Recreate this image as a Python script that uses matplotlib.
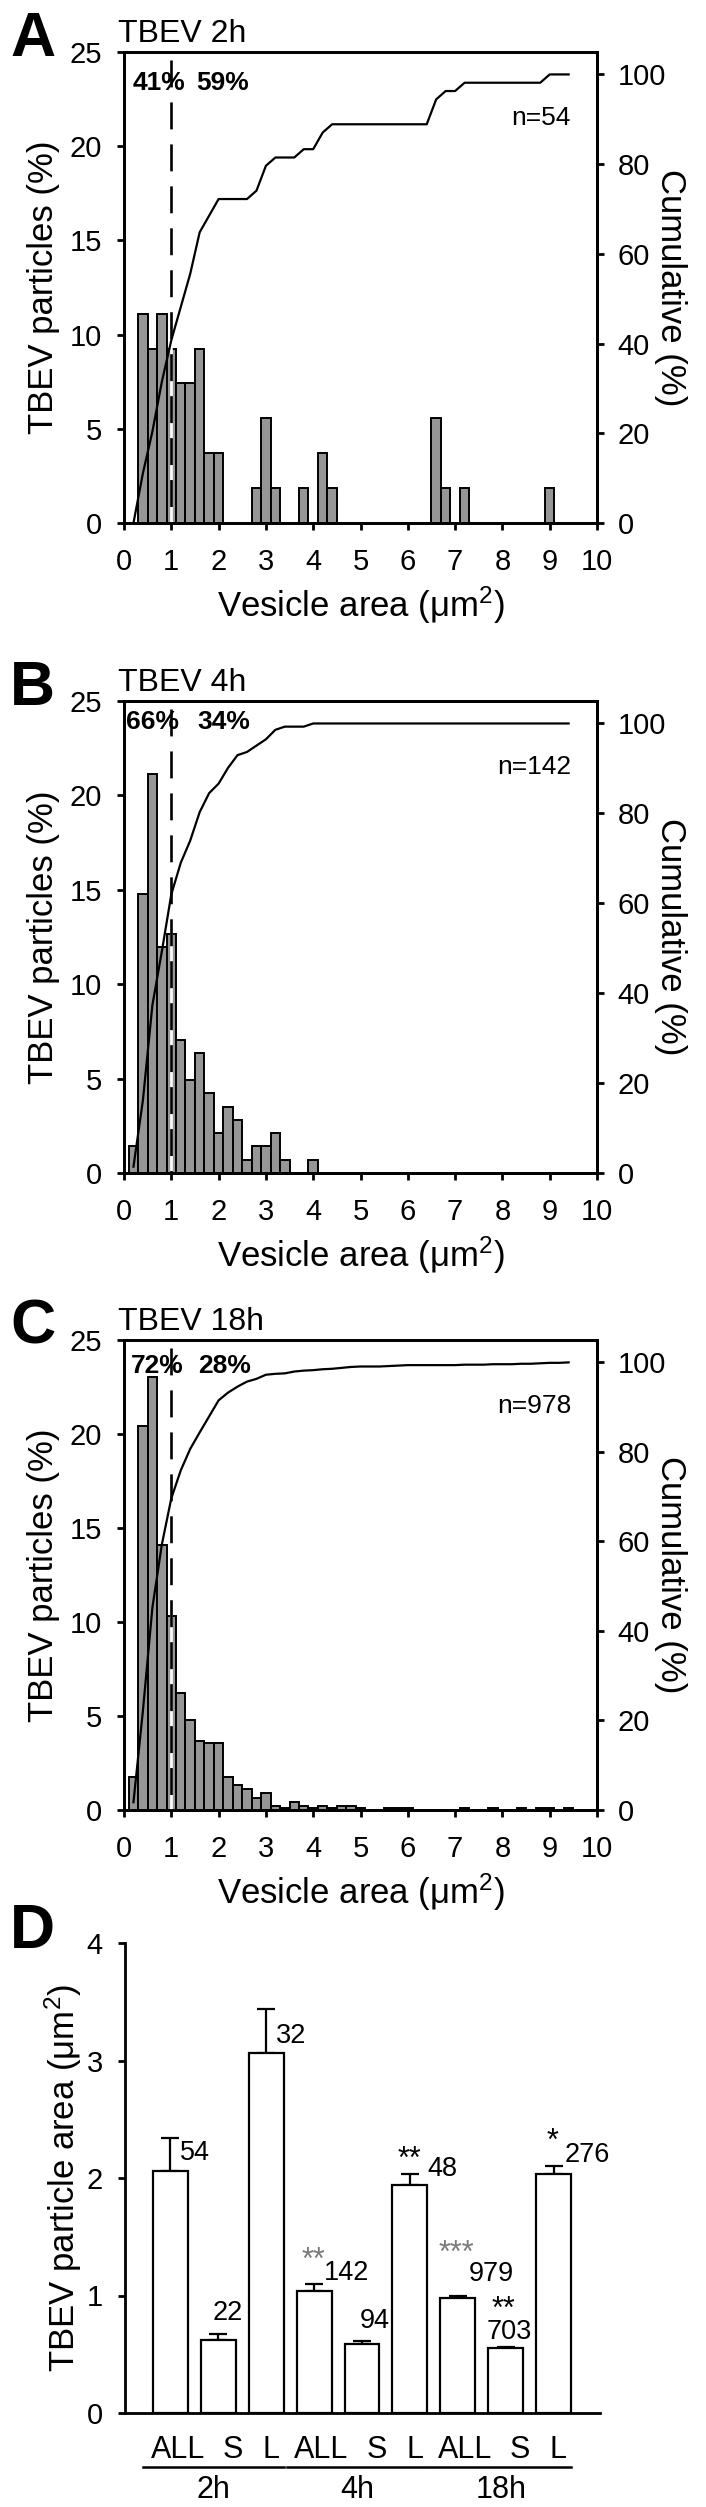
import numpy as np
import matplotlib
matplotlib.use('Agg')
import matplotlib.pyplot as plt
from matplotlib import transforms

plt.rcParams['font.family'] = ['Liberation Sans', 'DejaVu Sans']
plt.rcParams['mathtext.fontset'] = 'custom'
plt.rcParams['mathtext.rm'] = 'Liberation Sans'
plt.rcParams['mathtext.default'] = 'regular'

# vesicle area histograms: bin centre (um2) and number of particles in the bin
bins_2h = [0.4, 0.6, 0.8, 1.0, 1.2, 1.4, 1.6, 1.8, 2.0, 2.8, 3.0, 3.2, 3.8, 4.2, 4.4, 6.6, 6.8, 7.2, 9.0]
counts_2h = [6, 5, 6, 5, 4, 4, 5, 2, 2, 1, 3, 1, 1, 2, 1, 3, 1, 1, 1]

bins_4h = [0.2, 0.4, 0.6, 0.8, 1.0, 1.2, 1.4, 1.6, 1.8, 2.0, 2.2, 2.4, 2.6, 2.8, 3.0, 3.2, 3.4, 4.0]
counts_4h = [2, 21, 30, 17, 18, 10, 7, 9, 6, 3, 5, 4, 1, 2, 2, 3, 1, 1]

bins_18h = [0.2, 0.4, 0.6, 0.8, 1.0, 1.2, 1.4, 1.6, 1.8, 2.0, 2.2, 2.4, 2.6, 2.8, 3.0, 3.2, 3.4,
            3.6, 3.8, 4.0, 4.2, 4.4, 4.6, 4.8, 5.0, 5.6, 5.8, 6.0, 7.2, 7.8, 8.4, 8.8, 9.0, 9.4]
counts_18h = [17, 200, 225, 138, 101, 61, 47, 36, 35, 35, 17, 13, 11, 6, 9, 2, 1,
              4, 2, 1, 2, 1, 2, 2, 1, 1, 1, 1, 1, 1, 1, 1, 1, 1]

hist_bins = [bins_2h, bins_4h, bins_18h]
hist_counts = [counts_2h, counts_4h, counts_18h]
hist_n = [54, 142, 978]
hist_titles = ['TBEV 2h', 'TBEV 4h', 'TBEV 18h']
split_small = ['41%', '66%', '72%']
split_large = ['59%', '34%', '28%']
letters = ['A', 'B', 'C', 'D']

# panel D: mean particle area (um2) per vesicle class
time_points = ['2h', '4h', '18h']
classes = ['ALL', 'S', 'L']
mean_area = [2.06, 0.62, 3.06, 1.04, 0.59, 1.94, 0.975, 0.555, 2.03]
sem_area = [0.28, 0.05, 0.38, 0.06, 0.025, 0.09, 0.025, 0.01, 0.07]
n_text = ['54', '22', '32', '142', '94', '48', '979', '703', '276']
stars = ['', '', '', '**', '', '**', '***', '**', '*']
star_grey = [False, False, False, True, False, False, True, False, False]

W, H = 706, 2507
fig = plt.figure(figsize=(W / 100, H / 100), dpi=100)


def box(left, top, right, bottom):
    return [left / W, 1 - bottom / H, (right - left) / W, (bottom - top) / H]


hist_boxes = [(124, 52, 597, 523), (124, 701, 597, 1173), (124, 1340, 597, 1810)]
split_y = [23.35, 23.9, 23.6]
split_x = [(0.19, 1.53), (0.04, 1.55), (0.15, 1.57)]
grid = np.round(np.arange(0.2, 9.41, 0.2), 1)

for k in range(3):
    ax = fig.add_axes(box(*hist_boxes[k]))
    pct = np.array(hist_counts[k]) / hist_n[k] * 100
    ax.bar(hist_bins[k], pct, width=0.2, color='#969696', edgecolor='black', linewidth=1.4, zorder=2)
    ax.plot([1, 1], [24.55, 0], color='white', lw=1.9, zorder=3)
    ax.plot([1, 1], [24.55, 0], color='black', lw=1.9, dashes=(10.2, 5.7), zorder=4)
    ax.set_xlim(0, 10)
    ax.set_ylim(0, 25)
    ax.set_xticks(range(11))
    ax.set_yticks(range(0, 26, 5))
    ax.tick_params(direction='out', length=5, width=2, labelsize=21)
    ax.tick_params(axis='x', pad=13)
    ax.tick_params(axis='y', pad=11)
    ax.set_xlabel('Vesicle area (μm$^2$)', fontsize=25, va='center')
    ax.xaxis.set_label_coords(0.5, -0.174)
    ax.set_ylabel('TBEV particles (%)', fontsize=25, va='center')
    ax.yaxis.set_label_coords(-0.171, 0.5)
    ax.text(split_x[k][0], split_y[k], split_small[k], fontsize=19, fontweight='bold', va='center', zorder=5)
    ax.text(split_x[k][1], split_y[k], split_large[k], fontsize=19, fontweight='bold', va='center', zorder=5)
    ax.text(9.45, 21.5, 'n=%d' % hist_n[k], fontsize=19, ha='right', va='center')
    ax.text(-0.013, 1.021, hist_titles[k], transform=ax.transAxes, fontsize=23, va='baseline')
    fig.text(10 / W, 1 - (hist_boxes[k][1] + 4) / H, letters[k], fontsize=45, fontweight='bold', va='baseline')

    ax2 = ax.twinx()
    full = np.zeros(len(grid))
    for b, c in zip(hist_bins[k], hist_counts[k]):
        full[np.argmin(abs(grid - b))] = c
    ax2.plot(grid, np.cumsum(full) / hist_n[k] * 100, color='black', lw=1.6)
    ax2.set_ylim(0, 105)
    ax2.set_yticks(range(0, 101, 20))
    ax2.tick_params(axis='y', direction='out', length=5, width=2, labelsize=21, pad=10)
    ax2.set_ylabel('Cumulative (%)', fontsize=25, rotation=270, va='center')
    ax2.yaxis.set_label_coords(1.156, 0.5)
    for a in (ax, ax2):
        for s in a.spines.values():
            s.set_linewidth(2)

# panel D
axd = fig.add_axes(box(125, 1943, 600, 2413))
x = np.arange(len(mean_area))
axd.bar(x, mean_area, width=0.73, color='white', edgecolor='black', linewidth=1.6, zorder=2)
axd.errorbar(x, mean_area, yerr=[np.zeros(len(x)), sem_area], fmt='none', ecolor='black',
             elinewidth=1.6, capsize=6.5, capthick=1.6, zorder=1)
axd.set_xlim(-0.95, 8.97)
axd.set_ylim(0, 4)
axd.set_xticks([])
axd.set_yticks(range(5))
axd.spines['top'].set_visible(False)
axd.spines['right'].set_visible(False)
axd.spines['left'].set_linewidth(2)
axd.spines['bottom'].set_linewidth(2)
axd.tick_params(axis='y', direction='out', length=5, width=2, labelsize=21, pad=11)
axd.set_ylabel('TBEV particle area (μm$^2$)', fontsize=25, va='center')
axd.yaxis.set_label_coords(-0.131, 0.5)
fig.text(10 / W, 1 - (1943 + 5) / H, letters[3], fontsize=45, fontweight='bold', va='baseline')

n_x = [0.20, 0.88, 2.20, 3.21, 3.96, 5.37, 6.22, 6.60, 8.24]
n_y = [2.21, 0.85, 3.21, 1.19, 0.78, 2.08, 1.18, 0.69, 2.20]
star_x = [0, 0, 0, 2.98, 0, 5.00, 5.98, 6.95, 7.98]
star_y = [0, 0, 0, 1.38, 0, 2.24, 1.44, 0.96, 2.39]
for i in range(len(x)):
    axd.text(n_x[i], n_y[i], n_text[i], fontsize=19.5, va='center', ha='left')
    if stars[i]:
        axd.text(star_x[i], star_y[i] - 0.15, stars[i], fontsize=22, ha='center', va='baseline',
                 color='#7a7a7a' if star_grey[i] else 'black')

tr = transforms.blended_transform_factory(axd.transData, axd.transAxes)
class_dx = [0.15, 0.3, 0.1]
for g, tp in enumerate(time_points):
    for c, cl in enumerate(classes):
        axd.text(g * 3 + c + class_dx[c], -0.079, cl, transform=tr, fontsize=22, ha='center', va='center')
    axd.plot([g * 3 - 0.57, g * 3 + 2.37], [-0.115, -0.115], transform=tr, color='black', lw=1.8, clip_on=False)
    axd.text(g * 3 + 0.9, -0.164, tp, transform=tr, fontsize=22, ha='center', va='center')

fig.savefig('out.png', dpi=100)
